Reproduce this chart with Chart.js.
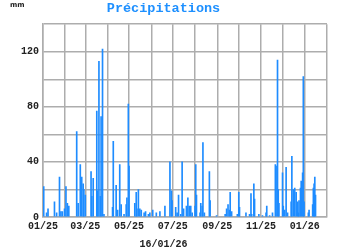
<!DOCTYPE html>
<html>
<head>
<meta charset="utf-8">
<script src="https://cdn.jsdelivr.net/npm/chart.js@4"></script>
<style>
  body { margin: 0; background: #fff; }
  #wrap { position: relative; width: 350px; height: 250px; }
  #unit { position: absolute; left: 10px; top: 1px; font: bold 7px 'DejaVu Sans'; color: #222; }
</style>
</head>
<body>
<div id="wrap">
  <canvas id="rainChart" width="350" height="250"></canvas>
  <span id="unit">mm</span>
</div>
<script>
  // days since 1 Jan 2025 with rain, and the amount (mm)
  const rainDay = [1,5,7,16,19,23,25,27,30,32,34,36,47,49,52,54,56,57,59,67,
    68,70,75,76,78,80,81,83,85,97,98,102,104,107,109,113,116,117,119,120,
    128,130,131,133,135,137,141,143,147,149,153,158,163,170,177,179,180,185,187,189,
    192,194,196,200,202,204,206,208,212,213,214,219,220,222,223,225,232,233,242,254,
    256,258,260,261,263,271,273,274,283,288,290,291,294,295,301,306,311,312,316,320,
    324,325,327,328,329,334,335,337,339,341,346,347,349,351,353,355,356,357,359,360,
    362,363,364,370,371,376,377,378,379,380];
  const rainMm = [22,3,6,11,3,29,4,4,6,22,10,8,62,10,38,29,24,20,16,33,
    15,28,77,19,113,15,73,122,2,7,55,23,5,38,9,2,9,14,82,37,
    10,18,6,20,6,5,3,4,2,3,5,3,4,8,40,19,12,7,3,16,
    2,40,6,8,14,8,8,3,8,38,16,3,10,8,54,3,33,12,1,2,
    6,9,5,18,4,2,18,7,3,2,17,2,24,13,2,1,3,8,1,3,
    38,37,114,20,10,32,8,5,36,3,11,44,20,21,18,11,3,12,21,26,
    32,102,11,3,5,9,21,24,29,16];

  const monthStarts = [0,31,59,90,120,151,181,212,243,273,304,334,365,396];
  const monthLabels = ['01/25','','03/25','','05/25','','07/25','','09/25','','11/25','','01/26',''];
  const yTicks = [0,20,40,60,80,100,120,140];

  const gridColor = '#adadad';
  const tickFont = { family: 'Liberation Mono', size: 10, weight: 'bold' };

  const ctx = document.getElementById('rainChart').getContext('2d');
  const rainChart = new Chart(ctx, {
    type: 'bar',
    data: {
      datasets: [{
        data: rainDay.map((d, i) => ({ x: d, y: rainMm[i] })),
        backgroundColor: '#1e8cff',
        barThickness: 1
      }]
    },
    options: {
      responsive: false,
      animation: false,
      devicePixelRatio: 1,
      layout: { padding: { top: 0, right: 23, bottom: 0, left: 0 } },
      plugins: {
        legend: { display: false },
        tooltip: { enabled: false },
        title: {
          display: true,
          text: 'Précipitations',
          color: '#1e90ff',
          font: { family: 'Liberation Mono', size: 13.5, weight: 'bold' },
          padding: { top: 0, bottom: 8 }
        },
        subtitle: {
          display: true,
          position: 'bottom',
          text: '16/01/26',
          color: '#222',
          font: tickFont,
          padding: { top: 0, bottom: 0 }
        }
      },
      scales: {
        x: {
          type: 'linear',
          min: 0,
          max: 396,
          offset: false,
          afterBuildTicks: s => { s.ticks = monthStarts.map(v => ({ value: v })); },
          afterFit: s => { s.height = 21; },
          ticks: {
            autoSkip: false,
            maxRotation: 0,
            padding: 3,
            color: '#222',
            font: tickFont,
            callback: (v, i) => monthLabels[i]
          },
          grid: { color: gridColor, lineWidth: 1.5, drawTicks: false, offset: false },
          border: { color: gridColor, width: 1.5 }
        },
        y: {
          min: 0,
          max: 140,
          afterBuildTicks: s => { s.ticks = yTicks.map(v => ({ value: v })); },
          afterFit: s => { s.width = 43; },
          ticks: {
            autoSkip: false,
            padding: 4,
            color: '#222',
            font: tickFont,
            callback: v => (v % 40 === 0 && v < 140) ? v : ''
          },
          grid: { color: gridColor, lineWidth: 1.5, drawTicks: false },
          border: { color: gridColor, width: 1.5 }
        }
      }
    }
  });
</script>
</body>
</html>
